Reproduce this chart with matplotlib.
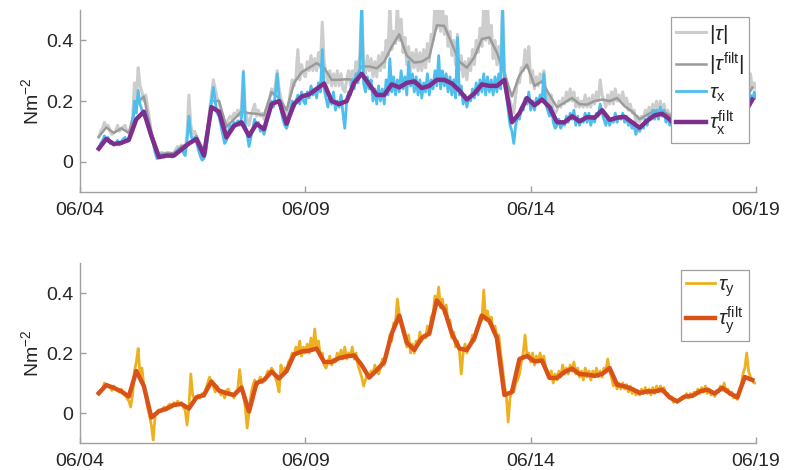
import numpy as np
import matplotlib
matplotlib.use("Agg")
import matplotlib.pyplot as plt

plt.rcParams["font.family"] = ["Liberation Sans", "DejaVu Sans"]
plt.rcParams["mathtext.fontset"] = "custom"
plt.rcParams["mathtext.rm"] = "Liberation Sans"
plt.rcParams["mathtext.it"] = "Liberation Sans:italic"
plt.rcParams["mathtext.bf"] = "Liberation Sans:bold"

# Time grids (hours since 06/04 00:00)
raw_hours = np.arange(10, 361)        # hourly record
filt_hours = np.arange(10, 359, 4)    # filtered record, 4-hourly

tick_days = [0, 5, 10, 15]
tick_labels = ["06/04", "06/09", "06/14", "06/19"]
y_ticks = [0, 0.2, 0.4]
y_tick_labels = ["0", "0.2", "0.4"]

# Wind stress magnitude |tau| (N m^-2), hourly; one row per day
tau_abs = [
    0.08, 0.1, 0.11, 0.13, 0.115, 0.12, 0.1, 0.09, 0.095, 0.1, 0.12, 0.1, 0.11, 0.115,
    0.12, 0.1, 0.095, 0.1, 0.14, 0.26, 0.2, 0.31, 0.25, 0.23, 0.2, 0.22, 0.18, 0.14, 0.1, 0.07, 0.04, 0.02, 0.025, 0.03, 0.03, 0.025, 0.03, 0.03,
    0.03, 0.025, 0.03, 0.04, 0.05, 0.045, 0.055, 0.045, 0.04, 0.09, 0.22, 0.12, 0.09, 0.1, 0.085, 0.06, 0.03, 0.01, 0.02, 0.05, 0.1, 0.17, 0.22, 0.27,
    0.24, 0.21, 0.2, 0.17, 0.13, 0.1, 0.12, 0.14, 0.15, 0.14, 0.16, 0.15, 0.17, 0.15, 0.18, 0.3, 0.17, 0.14, 0.12, 0.15, 0.17, 0.19, 0.15, 0.17,
    0.15, 0.16, 0.14, 0.17, 0.19, 0.21, 0.24, 0.22, 0.25, 0.3, 0.24, 0.21, 0.19, 0.16, 0.15, 0.18, 0.23, 0.27, 0.25, 0.28, 0.37, 0.27, 0.32, 0.29,
    0.28, 0.33, 0.3, 0.35, 0.3, 0.34, 0.3, 0.36, 0.31, 0.46, 0.33, 0.29, 0.26, 0.3, 0.25, 0.29, 0.25, 0.3, 0.25, 0.29, 0.24, 0.23, 0.27, 0.3,
    0.25, 0.3, 0.27, 0.33, 0.3, 0.35, 0.52, 0.33, 0.29, 0.35, 0.3, 0.34, 0.28, 0.33, 0.28, 0.35, 0.3, 0.36, 0.31, 0.4, 0.35, 0.52, 0.37, 0.43,
    0.39, 0.52, 0.4, 0.47, 0.36, 0.41, 0.32, 0.38, 0.3, 0.36, 0.31, 0.37, 0.3, 0.36, 0.3, 0.37, 0.31, 0.39, 0.33, 0.42, 0.4, 0.52, 0.44, 0.52,
    0.43, 0.52, 0.42, 0.48, 0.38, 0.43, 0.35, 0.4, 0.32, 0.42, 0.3, 0.35, 0.28, 0.33, 0.27, 0.34, 0.3, 0.37, 0.32, 0.4, 0.36, 0.44, 0.38, 0.52,
    0.4, 0.52, 0.39, 0.45, 0.34, 0.4, 0.32, 0.38, 0.3, 0.52, 0.3, 0.27, 0.22, 0.2, 0.18, 0.16, 0.22, 0.27, 0.26, 0.31, 0.3, 0.37, 0.31, 0.38,
    0.26, 0.3, 0.24, 0.28, 0.25, 0.29, 0.26, 0.3, 0.23, 0.21, 0.19, 0.22, 0.17, 0.16, 0.17, 0.2, 0.18, 0.21, 0.19, 0.23, 0.2, 0.24, 0.2, 0.23,
    0.18, 0.21, 0.18, 0.2, 0.18, 0.22, 0.18, 0.21, 0.18, 0.22, 0.19, 0.23, 0.2, 0.27, 0.22, 0.2, 0.18, 0.22, 0.19, 0.23, 0.19, 0.24, 0.2, 0.22,
    0.2, 0.23, 0.19, 0.21, 0.17, 0.19, 0.16, 0.17, 0.13, 0.15, 0.13, 0.15, 0.14, 0.17, 0.15, 0.18, 0.16, 0.19, 0.16, 0.2, 0.16, 0.2, 0.16, 0.19,
    0.15, 0.17, 0.14, 0.16, 0.14, 0.16, 0.14, 0.17, 0.15, 0.18, 0.15, 0.19, 0.15, 0.18, 0.16, 0.19, 0.15, 0.18, 0.15, 0.17, 0.15, 0.18, 0.15, 0.17,
    0.14, 0.16, 0.14, 0.16, 0.14, 0.17, 0.14, 0.17, 0.14, 0.16, 0.14, 0.16, 0.13, 0.15, 0.14, 0.16, 0.18, 0.21, 0.2, 0.23, 0.24, 0.29, 0.24, 0.26,
    0.24,
]

# Eastward component tau_x (N m^-2), hourly
tau_x = [
    0.045, 0.06, 0.07, 0.085, 0.075, 0.08, 0.06, 0.065, 0.055, 0.06, 0.07, 0.055, 0.065, 0.075,
    0.08, 0.065, 0.07, 0.09, 0.11, 0.2, 0.16, 0.235, 0.19, 0.17, 0.15, 0.16, 0.13, 0.1, 0.08, 0.06, 0.03, 0.01, 0.015, 0.02, 0.025, 0.015, 0.02, 0.025,
    0.02, 0.015, 0.02, 0.03, 0.04, 0.035, 0.045, 0.03, 0.02, 0.07, 0.15, 0.09, 0.07, 0.08, 0.065, 0.04, 0.02, 0.005, 0.01, 0.03, 0.08, 0.14, 0.2, 0.245,
    0.2, 0.16, 0.15, 0.12, 0.09, 0.06, 0.07, 0.1, 0.12, 0.11, 0.13, 0.12, 0.135, 0.12, 0.145, 0.295, 0.12, 0.09, 0.05, 0.08, 0.11, 0.14, 0.12, 0.13,
    0.1, 0.11, 0.09, 0.12, 0.15, 0.17, 0.2, 0.18, 0.22, 0.29, 0.21, 0.17, 0.14, 0.12, 0.11, 0.13, 0.17, 0.2, 0.18, 0.2, 0.22, 0.19, 0.23, 0.2,
    0.19, 0.23, 0.21, 0.25, 0.22, 0.24, 0.21, 0.26, 0.23, 0.37, 0.24, 0.21, 0.18, 0.22, 0.19, 0.23, 0.17, 0.2, 0.18, 0.22, 0.16, 0.11, 0.2, 0.23,
    0.22, 0.27, 0.24, 0.29, 0.26, 0.3, 0.52, 0.26, 0.23, 0.28, 0.24, 0.27, 0.2, 0.24, 0.19, 0.25, 0.2, 0.24, 0.19, 0.27, 0.22, 0.34, 0.23, 0.28,
    0.22, 0.27, 0.23, 0.3, 0.24, 0.28, 0.22, 0.33, 0.25, 0.29, 0.23, 0.28, 0.22, 0.27, 0.21, 0.26, 0.23, 0.29, 0.22, 0.27, 0.24, 0.3, 0.25, 0.35,
    0.24, 0.3, 0.25, 0.29, 0.23, 0.28, 0.22, 0.27, 0.21, 0.41, 0.22, 0.25, 0.19, 0.22, 0.18, 0.21, 0.2, 0.24, 0.21, 0.26, 0.22, 0.27, 0.23, 0.29,
    0.22, 0.28, 0.23, 0.27, 0.22, 0.28, 0.23, 0.29, 0.24, 0.52, 0.26, 0.22, 0.17, 0.12, 0.1, 0.06, 0.12, 0.15, 0.14, 0.18, 0.17, 0.21, 0.19, 0.23,
    0.17, 0.2, 0.17, 0.21, 0.19, 0.22, 0.2, 0.29, 0.19, 0.17, 0.15, 0.18, 0.13, 0.11, 0.12, 0.14, 0.11, 0.13, 0.12, 0.15, 0.13, 0.16, 0.14, 0.17,
    0.12, 0.15, 0.12, 0.14, 0.13, 0.16, 0.13, 0.16, 0.12, 0.15, 0.13, 0.16, 0.15, 0.19, 0.16, 0.14, 0.12, 0.15, 0.12, 0.14, 0.13, 0.16, 0.13, 0.15,
    0.14, 0.16, 0.13, 0.15, 0.12, 0.13, 0.11, 0.12, 0.09, 0.11, 0.1, 0.12, 0.11, 0.14, 0.12, 0.15, 0.14, 0.17, 0.14, 0.17, 0.14, 0.18, 0.15, 0.17,
    0.13, 0.15, 0.12, 0.13, 0.1, 0.12, 0.1, 0.12, 0.11, 0.13, 0.12, 0.14, 0.12, 0.15, 0.13, 0.15, 0.12, 0.14, 0.12, 0.14, 0.13, 0.15, 0.13, 0.15,
    0.12, 0.14, 0.11, 0.13, 0.12, 0.14, 0.12, 0.15, 0.12, 0.14, 0.12, 0.14, 0.11, 0.13, 0.12, 0.14, 0.15, 0.17, 0.16, 0.18, 0.19, 0.22, 0.2, 0.23,
    0.21,
]

# Northward component tau_y (N m^-2), hourly
tau_y = [
    0.065, 0.075, 0.08, 0.1, 0.095, 0.09, 0.085, 0.075, 0.09, 0.08, 0.075, 0.07, 0.08, 0.065,
    0.06, 0.05, 0.04, 0.02, 0.06, 0.14, 0.17, 0.215, 0.12, 0.15, 0.09, 0.06, 0.02, -0.01, -0.04, -0.09, -0.01, 0.0, 0.01, 0.005, 0.015, 0.02, 0.01, 0.025,
    0.03, 0.02, 0.035, 0.025, 0.04, 0.03, 0.035, 0.02, 0.01, -0.04, 0.02, 0.13, 0.06, 0.045, 0.05, 0.06, 0.05, 0.065, 0.055, 0.08, 0.1, 0.12, 0.1, 0.09,
    0.07, 0.09, 0.075, 0.06, 0.07, 0.05, 0.075, 0.08, 0.06, 0.065, 0.05, 0.07, 0.08, 0.145, 0.09, 0.06, 0.02, -0.05, 0.0, 0.06, 0.09, 0.11, 0.09, 0.1,
    0.12, 0.1, 0.11, 0.12, 0.14, 0.13, 0.15, 0.14, 0.12, 0.1, 0.07, 0.16, 0.13, 0.15, 0.14, 0.17, 0.18, 0.2, 0.19, 0.22, 0.2, 0.24, 0.19, 0.22,
    0.2, 0.23, 0.2, 0.25, 0.21, 0.28, 0.21, 0.24, 0.19, 0.2, 0.16, 0.15, 0.17, 0.19, 0.16, 0.18, 0.17, 0.2, 0.18, 0.21, 0.18, 0.22, 0.18, 0.2,
    0.19, 0.22, 0.18, 0.2, 0.16, 0.14, 0.12, 0.09, 0.11, 0.13, 0.12, 0.14, 0.13, 0.16, 0.14, 0.13, 0.15, 0.18, 0.16, 0.2, 0.22, 0.26, 0.24, 0.3,
    0.3, 0.38, 0.33, 0.31, 0.27, 0.25, 0.22, 0.26, 0.2, 0.23, 0.2, 0.24, 0.23, 0.27, 0.24, 0.26, 0.25, 0.29, 0.26, 0.32, 0.33, 0.39, 0.36, 0.42,
    0.35, 0.38, 0.33, 0.36, 0.3, 0.31, 0.25, 0.27, 0.22, 0.24, 0.21, 0.13, 0.2, 0.23, 0.2, 0.22, 0.23, 0.26, 0.24, 0.28, 0.29, 0.32, 0.31, 0.41,
    0.31, 0.34, 0.3, 0.32, 0.27, 0.29, 0.25, 0.26, 0.2, 0.15, 0.09, 0.06, -0.03, 0.05, 0.08, 0.07, 0.1, 0.11, 0.13, 0.17, 0.2, 0.26, 0.19, 0.2,
    0.17, 0.2, 0.16, 0.19, 0.17, 0.2, 0.17, 0.19, 0.15, 0.14, 0.12, 0.14, 0.1, 0.13, 0.11, 0.14, 0.12, 0.16, 0.13, 0.15, 0.13, 0.16, 0.14, 0.17,
    0.13, 0.15, 0.12, 0.14, 0.11, 0.15, 0.12, 0.14, 0.11, 0.14, 0.12, 0.15, 0.12, 0.14, 0.12, 0.15, 0.14, 0.18, 0.14, 0.12, 0.09, 0.11, 0.08, 0.1,
    0.08, 0.1, 0.08, 0.095, 0.07, 0.09, 0.065, 0.08, 0.06, 0.075, 0.06, 0.08, 0.065, 0.085, 0.065, 0.08, 0.06, 0.085, 0.065, 0.09, 0.07, 0.09, 0.07, 0.085,
    0.06, 0.065, 0.05, 0.055, 0.035, 0.045, 0.035, 0.04, 0.045, 0.055, 0.05, 0.065, 0.05, 0.065, 0.055, 0.07, 0.06, 0.08, 0.065, 0.085, 0.07, 0.09, 0.065, 0.08,
    0.06, 0.07, 0.055, 0.075, 0.07, 0.09, 0.075, 0.1, 0.07, 0.08, 0.06, 0.07, 0.05, 0.06, 0.045, 0.06, 0.09, 0.13, 0.15, 0.2, 0.14, 0.12, 0.11, 0.1,
    0.1,
]

# Low-pass filtered series, 4-hourly; one row per day
tau_abs_filt = [
    0.082, 0.113, 0.095, 0.11, 0.095, 0.19,
    0.215, 0.095, 0.025, 0.027, 0.028, 0.05,
    0.06, 0.085, 0.035, 0.2, 0.2, 0.115,
    0.14, 0.165, 0.16, 0.158, 0.153, 0.23,
    0.21, 0.17, 0.26, 0.295, 0.31, 0.325,
    0.31, 0.27, 0.27, 0.272, 0.27, 0.314,
    0.314, 0.308, 0.33, 0.38, 0.42, 0.35,
    0.327, 0.33, 0.345, 0.45, 0.448, 0.39,
    0.33, 0.31, 0.345, 0.405, 0.41, 0.36,
    0.29, 0.215, 0.285, 0.32, 0.25, 0.265,
    0.22, 0.18, 0.195, 0.21, 0.19, 0.188,
    0.2, 0.205, 0.2, 0.21, 0.183, 0.165,
    0.14, 0.155, 0.168, 0.168, 0.153, 0.15,
    0.16, 0.17, 0.16, 0.165, 0.15, 0.155,
    0.15, 0.15, 0.2, 0.245,
]

tau_x_filt = [
    0.043, 0.075, 0.058, 0.062, 0.072, 0.14,
    0.165, 0.085, 0.015, 0.02, 0.02, 0.04,
    0.06, 0.075, 0.02, 0.18, 0.165, 0.08,
    0.118, 0.13, 0.085, 0.125, 0.107, 0.19,
    0.2, 0.125, 0.19, 0.215, 0.222, 0.24,
    0.258, 0.2, 0.19, 0.2, 0.26, 0.29,
    0.255, 0.22, 0.22, 0.255, 0.245, 0.26,
    0.265, 0.243, 0.25, 0.27, 0.27, 0.258,
    0.235, 0.205, 0.225, 0.255, 0.25, 0.25,
    0.27, 0.13, 0.16, 0.21, 0.186, 0.205,
    0.18, 0.13, 0.13, 0.15, 0.133, 0.147,
    0.145, 0.17, 0.138, 0.145, 0.148, 0.13,
    0.112, 0.135, 0.153, 0.158, 0.14, 0.11,
    0.12, 0.135, 0.13, 0.14, 0.125, 0.135,
    0.13, 0.125, 0.16, 0.205,
]

tau_y_filt = [
    0.066, 0.093, 0.084, 0.072, 0.055, 0.14,
    0.09, -0.015, 0.006, 0.014, 0.027, 0.03,
    0.015, 0.052, 0.06, 0.105, 0.075, 0.066,
    0.06, 0.085, 0.005, 0.1, 0.11, 0.138,
    0.115, 0.14, 0.195, 0.205, 0.208, 0.215,
    0.17, 0.17, 0.183, 0.189, 0.192, 0.16,
    0.118, 0.143, 0.17, 0.265, 0.325, 0.235,
    0.21, 0.25, 0.265, 0.375, 0.345, 0.265,
    0.215, 0.21, 0.25, 0.325, 0.307, 0.25,
    0.06, 0.07, 0.18, 0.19, 0.172, 0.175,
    0.117, 0.117, 0.137, 0.148, 0.13, 0.128,
    0.124, 0.13, 0.15, 0.094, 0.089, 0.08,
    0.067, 0.072, 0.072, 0.078, 0.052, 0.039,
    0.055, 0.057, 0.072, 0.078, 0.065, 0.084,
    0.066, 0.052, 0.12, 0.11,
]

t_raw = raw_hours / 24.0
t_filt = filt_hours / 24.0

C_ABS = "#cdcdcd"
C_ABS_F = "#9b9b9b"
C_X = "#4dbeee"
C_X_F = "#7e2f8e"
C_Y = "#edb120"
C_Y_F = "#d95319"
C_AX = "#a0a0a0"
C_TXT = "#262626"

fig = plt.figure(figsize=(7.88, 4.70), dpi=100)
ax1 = fig.add_axes([0.1015, 0.5915, 0.858, 0.387])
ax2 = fig.add_axes([0.1015, 0.0574, 0.858, 0.383])

ax1.plot(t_raw, tau_abs, color=C_ABS, lw=2.2, label=r"$|\tau|$")
ax1.plot(t_filt, tau_abs_filt, color=C_ABS_F, lw=1.8, label=r"$|\tau^{\mathrm{filt}}|$")
ax1.plot(t_raw, tau_x, color=C_X, lw=2.0, label=r"$\tau_{\mathrm{x}}$")
ax1.plot(t_filt, tau_x_filt, color=C_X_F, lw=3.2, label=r"$\tau_{\mathrm{x}}^{\mathrm{filt}}$")

ax2.plot(t_raw, tau_y, color=C_Y, lw=2.0, label=r"$\tau_{\mathrm{y}}$")
ax2.plot(t_filt, tau_y_filt, color=C_Y_F, lw=3.2, label=r"$\tau_{\mathrm{y}}^{\mathrm{filt}}$")

for ax in (ax1, ax2):
    ax.set_xlim(0, 15)
    ax.set_ylim(-0.1, 0.5)
    ax.set_xticks(tick_days)
    ax.set_xticklabels(tick_labels)
    ax.set_yticks(y_ticks)
    ax.set_yticklabels(y_tick_labels)
    for s in ("top", "right"):
        ax.spines[s].set_visible(False)
    for s in ("left", "bottom"):
        ax.spines[s].set_color(C_AX)
        ax.spines[s].set_linewidth(1.0)
    ax.tick_params(axis="both", direction="in", length=4, width=1.0,
                   color=C_AX, labelcolor=C_TXT, labelsize=14)
    ax.tick_params(axis="x", pad=7)
    ax.tick_params(axis="y", pad=5)
    ax.set_ylabel(r"Nm$^{-2}$", fontsize=14, color=C_TXT, labelpad=3)
    leg = ax.legend(loc="upper right", fontsize=15, frameon=True, fancybox=False,
                    edgecolor=C_AX, framealpha=1.0, borderaxespad=0.35,
                    handlelength=1.4, handletextpad=0.15, borderpad=0.25,
                    labelspacing=0.25)
    leg.get_frame().set_linewidth(0.9)
    for txt in leg.get_texts():
        txt.set_color(C_TXT)

fig.savefig("out.png", dpi=100)
